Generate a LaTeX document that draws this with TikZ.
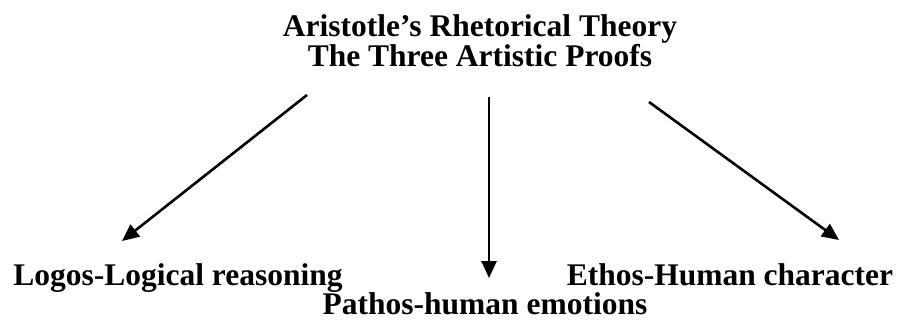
\documentclass[tikz,border=0pt]{standalone}
\usepackage{fontspec}
\setmainfont{Liberation Serif}
\usetikzlibrary{positioning, arrows.meta}

\begin{document}
\begin{tikzpicture}[
        x=1pt, y=-1pt,
        >={Triangle[length=17pt, width=15pt]},
        proof/.style={font=\fontsize{31.5}{28}\selectfont\bfseries, inner sep=0pt, anchor=base},
        link/.style={->, line width=2.6pt},
    ]
    \useasboundingbox (0,0) rectangle (904,330);

    % Draw the title
    \node[proof, align=center] (title) at (480,66) {Aristotle’s Rhetorical Theory\\The Three Artistic Proofs};

    % Draw the three proofs
    \node[proof] (logos) at (178,285) {Logos-Logical reasoning};
    \node[proof] (pathos) at (485,314) {Pathos-human emotions};
    \node[proof] (ethos) at (730,285) {Ethos-Human character};

    % Arrow ends
    \foreach \name / \tx / \ty / \hx / \hy in {logos/307/95/122/241, pathos/489/97/489/278, ethos/649/102/839/240} {
        \coordinate (\name-tail) at (\tx,\ty);
        \coordinate (\name-head) at (\hx,\hy);
    }

    % Connect the title with every proof
    \foreach \name in {logos, pathos, ethos}
        \draw[link] (\name-tail) -- (\name-head);
\end{tikzpicture}
\end{document}
